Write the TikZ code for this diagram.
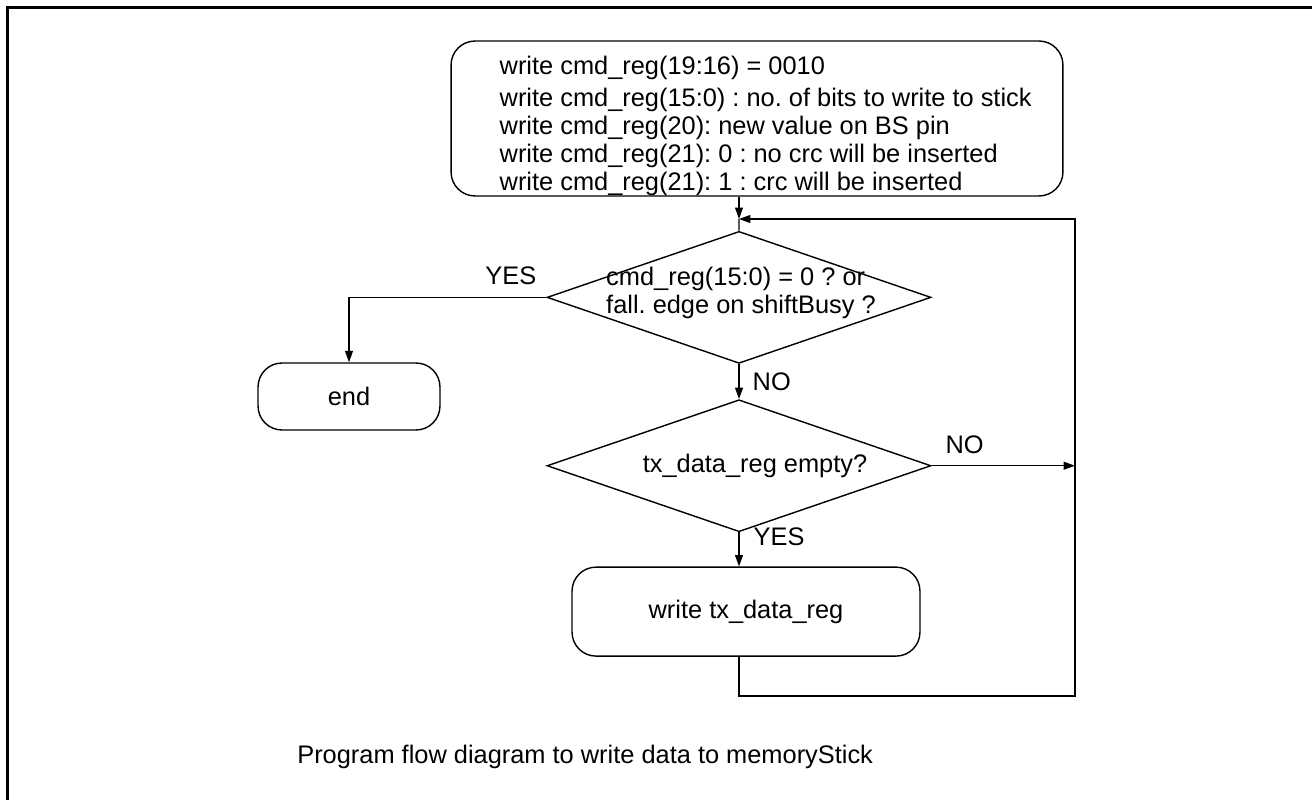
\documentclass[tikz,border=0pt]{standalone}
\usepackage{fontspec}
\setmainfont{Liberation Sans}
\usetikzlibrary{arrows.meta, shapes.geometric, positioning}

\begin{document}
\begin{tikzpicture}[x=0.02cm, y=-0.02cm, font=\fontsize{14.45pt}{15.9pt}\selectfont\frenchspacing,
	proc/.style={rectangle, draw, thick, rounded corners=0.48cm, align=center, inner sep=0pt},
	cond/.style={diamond, draw, thick, inner sep=0pt, minimum width=7.68cm, minimum height=2.64cm},
	txt/.style={inner sep=0pt, align=left},
	lbl/.style={inner sep=0pt},
	arr/.style={-{Triangle[length=6.5pt, width=4.5pt]}, thick}]

	\useasboundingbox (0,0) rectangle (1312,800);
	\draw[line width=0.06cm] (7.5,800) -- (7.5,7.5) -- (1312,7.5);

	\node[proc, minimum width=12.24cm, minimum height=3.1cm] (init) at (757,118.5) {};
	\node[txt, anchor=north west] (initTxt) at ([xshift=0.98cm, yshift=-0.31cm]init.north west)
		{write cmd\_reg(19:16) = 0010\\[2.3pt]
		 write cmd\_reg(15:0) : no. of bits to write to stick\\
		 write cmd\_reg(20): new value on BS pin\\
		 write cmd\_reg(21): 0 : no crc will be inserted\\
		 write cmd\_reg(21): 1 : crc will be inserted};
	\node[cond, below=0.68cm of init, xshift=-0.36cm] (test1) {};
	\node[txt] (test1Txt) at ([xshift=0.04cm, yshift=0.08cm]test1.center)
		{cmd\_reg(15:0) = 0 ? or\\fall. edge on shiftBusy ?};
	\node[cond, below=0.7cm of test1] (test2) {};
	\node[txt] (test2Txt) at ([xshift=0.32cm]test2.center) {tx\_data\_reg empty?};
	\node[proc, below=0.68cm of test2, xshift=0.14cm, minimum width=6.96cm, minimum height=1.78cm] (write) {write tx\_data\_reg};
	\node[proc, minimum width=3.64cm, minimum height=1.34cm] (endBox) at (349,396.5) {end};
	\node[lbl, anchor=base west] (caption) at (297,763) {Program flow diagram to write data to memoryStick};

	\coordinate (j) at (739,219);
	\coordinate (loopBR) at (1075,696);

	\draw[arr] (init.south -| j) -- (j);
	\draw[thick] (j) -- (test1.north);
	\draw[arr] (test1.west) -| node[lbl, above=0.24cm, pos=0.09] (yesEnd) {YES} (endBox.north);
	\draw[arr] (test1.south) -- node[lbl, right=0.26cm] (noTx) {NO} (test2.north);
	\draw[arr] (test2.east) -- node[lbl, above=0.22cm, pos=0.23] (noLoop) {NO} (test2.east -| loopBR);
	\draw[arr] (test2.south) -- node[lbl, right=0.28cm, pos=0.12] (yesWrite) {YES} (test2.south |- write.north);
	\draw[arr] (write.south -| j) |- (loopBR) -- (loopBR |- j) -- (j);
\end{tikzpicture}
\end{document}
